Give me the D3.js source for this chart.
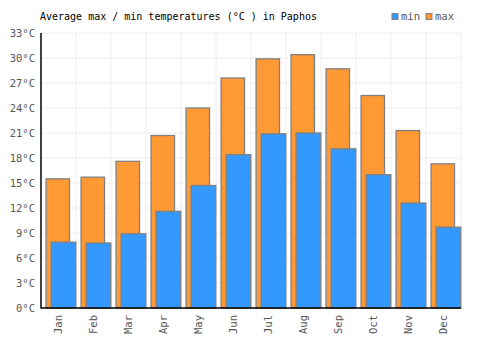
<!DOCTYPE html>
<html><head><meta charset="utf-8">
<script src="https://cdn.jsdelivr.net/npm/d3@7"></script>
<style>body{margin:0;background:#fff}svg{display:block}text{font-family:"DejaVu Sans Mono",monospace}</style>
</head><body><svg id="c" width="500" height="350"></svg>
<script>
const months = ["Jan","Feb","Mar","Apr","May","Jun","Jul","Aug","Sep","Oct","Nov","Dec"];
const maxTemps = [15.5,15.7,17.6,20.7,24.0,27.6,29.9,30.4,28.7,25.5,21.3,17.3];
const minTemps = [7.9,7.8,8.9,11.6,14.7,18.4,20.9,21.0,19.1,16.0,12.6,9.7];
const yTicks = [0,3,6,9,12,15,18,21,24,27,30,33];
const title = "Average max / min temperatures (°C ) in Paphos";

const svg = d3.select("#c");
const L = 41, R = 461, T = 33, B = 308;
const x = d3.scaleBand().domain(months).range([L, R]);
const y = d3.scaleLinear().domain([0, 33]).range([B, T]);
const bw = x.bandwidth();

// grid
svg.append("g").selectAll("line.h").data(yTicks).join("line")
  .attr("x1", L).attr("x2", R).attr("y1", d => y(d)).attr("y2", d => y(d))
  .attr("stroke", "#eeeeee").attr("stroke-width", 1);
svg.append("g").selectAll("line.v").data(months).join("line")
  .attr("x1", d => x(d) + bw).attr("x2", d => x(d) + bw).attr("y1", T).attr("y2", B)
  .attr("stroke", "#eeeeee").attr("stroke-width", 1);

// max bars
svg.append("g").selectAll("rect").data(maxTemps).join("rect")
  .attr("x", (d, i) => x(months[i]) + bw * 0.145)
  .attr("width", bw * 0.67)
  .attr("y", d => y(d)).attr("height", d => B - y(d))
  .attr("fill", "#ff9933").attr("stroke", "#808080").attr("stroke-width", 1.3);
// min bars
svg.append("g").selectAll("rect").data(minTemps).join("rect")
  .attr("x", (d, i) => x(months[i]) + bw * 0.29)
  .attr("width", bw * 0.705)
  .attr("y", d => y(d)).attr("height", d => B - y(d))
  .attr("fill", "#3399ff").attr("stroke", "#808080").attr("stroke-width", 1.3);

// axes
const yAxis = svg.append("g").attr("transform", `translate(${L},0)`)
  .call(d3.axisLeft(y).tickValues(yTicks).tickSize(0).tickPadding(6).tickFormat(d => d + "°C"));
yAxis.select(".domain").remove();
yAxis.selectAll("text").attr("fill", "#555").attr("font-size", 10.5)
  .attr("font-family", "DejaVu Sans Mono, monospace");

const xAxis = svg.append("g").attr("transform", `translate(0,${B})`)
  .call(d3.axisBottom(x).tickSize(0).tickPadding(0));
xAxis.select(".domain").remove();
xAxis.selectAll("text").attr("fill", "#555").attr("font-size", 10.5)
  .attr("font-family", "DejaVu Sans Mono, monospace")
  .attr("transform", "rotate(-90)").attr("text-anchor", "end")
  .attr("x", -7).attr("y", 0).attr("dy", "0.35em");

svg.append("line").attr("x1", L).attr("x2", L).attr("y1", T).attr("y2", B + 0.5).attr("stroke", "#000").attr("stroke-width", 1.5);
svg.append("line").attr("x1", L).attr("x2", R).attr("y1", B).attr("y2", B).attr("stroke", "#000").attr("stroke-width", 1.5);

// title
svg.append("text").attr("x", 40).attr("y", 20).attr("font-size", 10).attr("fill", "#000").text(title);

// legend
const leg = [{k: "min", c: "#3399ff", x: 392}, {k: "max", c: "#ff9933", x: 426}];
const lg = svg.append("g").selectAll("g").data(leg).join("g");
lg.append("rect").attr("x", d => d.x).attr("y", 13.5).attr("width", 6).attr("height", 6)
  .attr("fill", d => d.c).attr("stroke", "#808080").attr("stroke-width", 1);
lg.append("text").attr("x", d => d.x + 9).attr("y", 20).attr("font-size", 10.5).attr("fill", "#555").text(d => d.k);
</script></body></html>
